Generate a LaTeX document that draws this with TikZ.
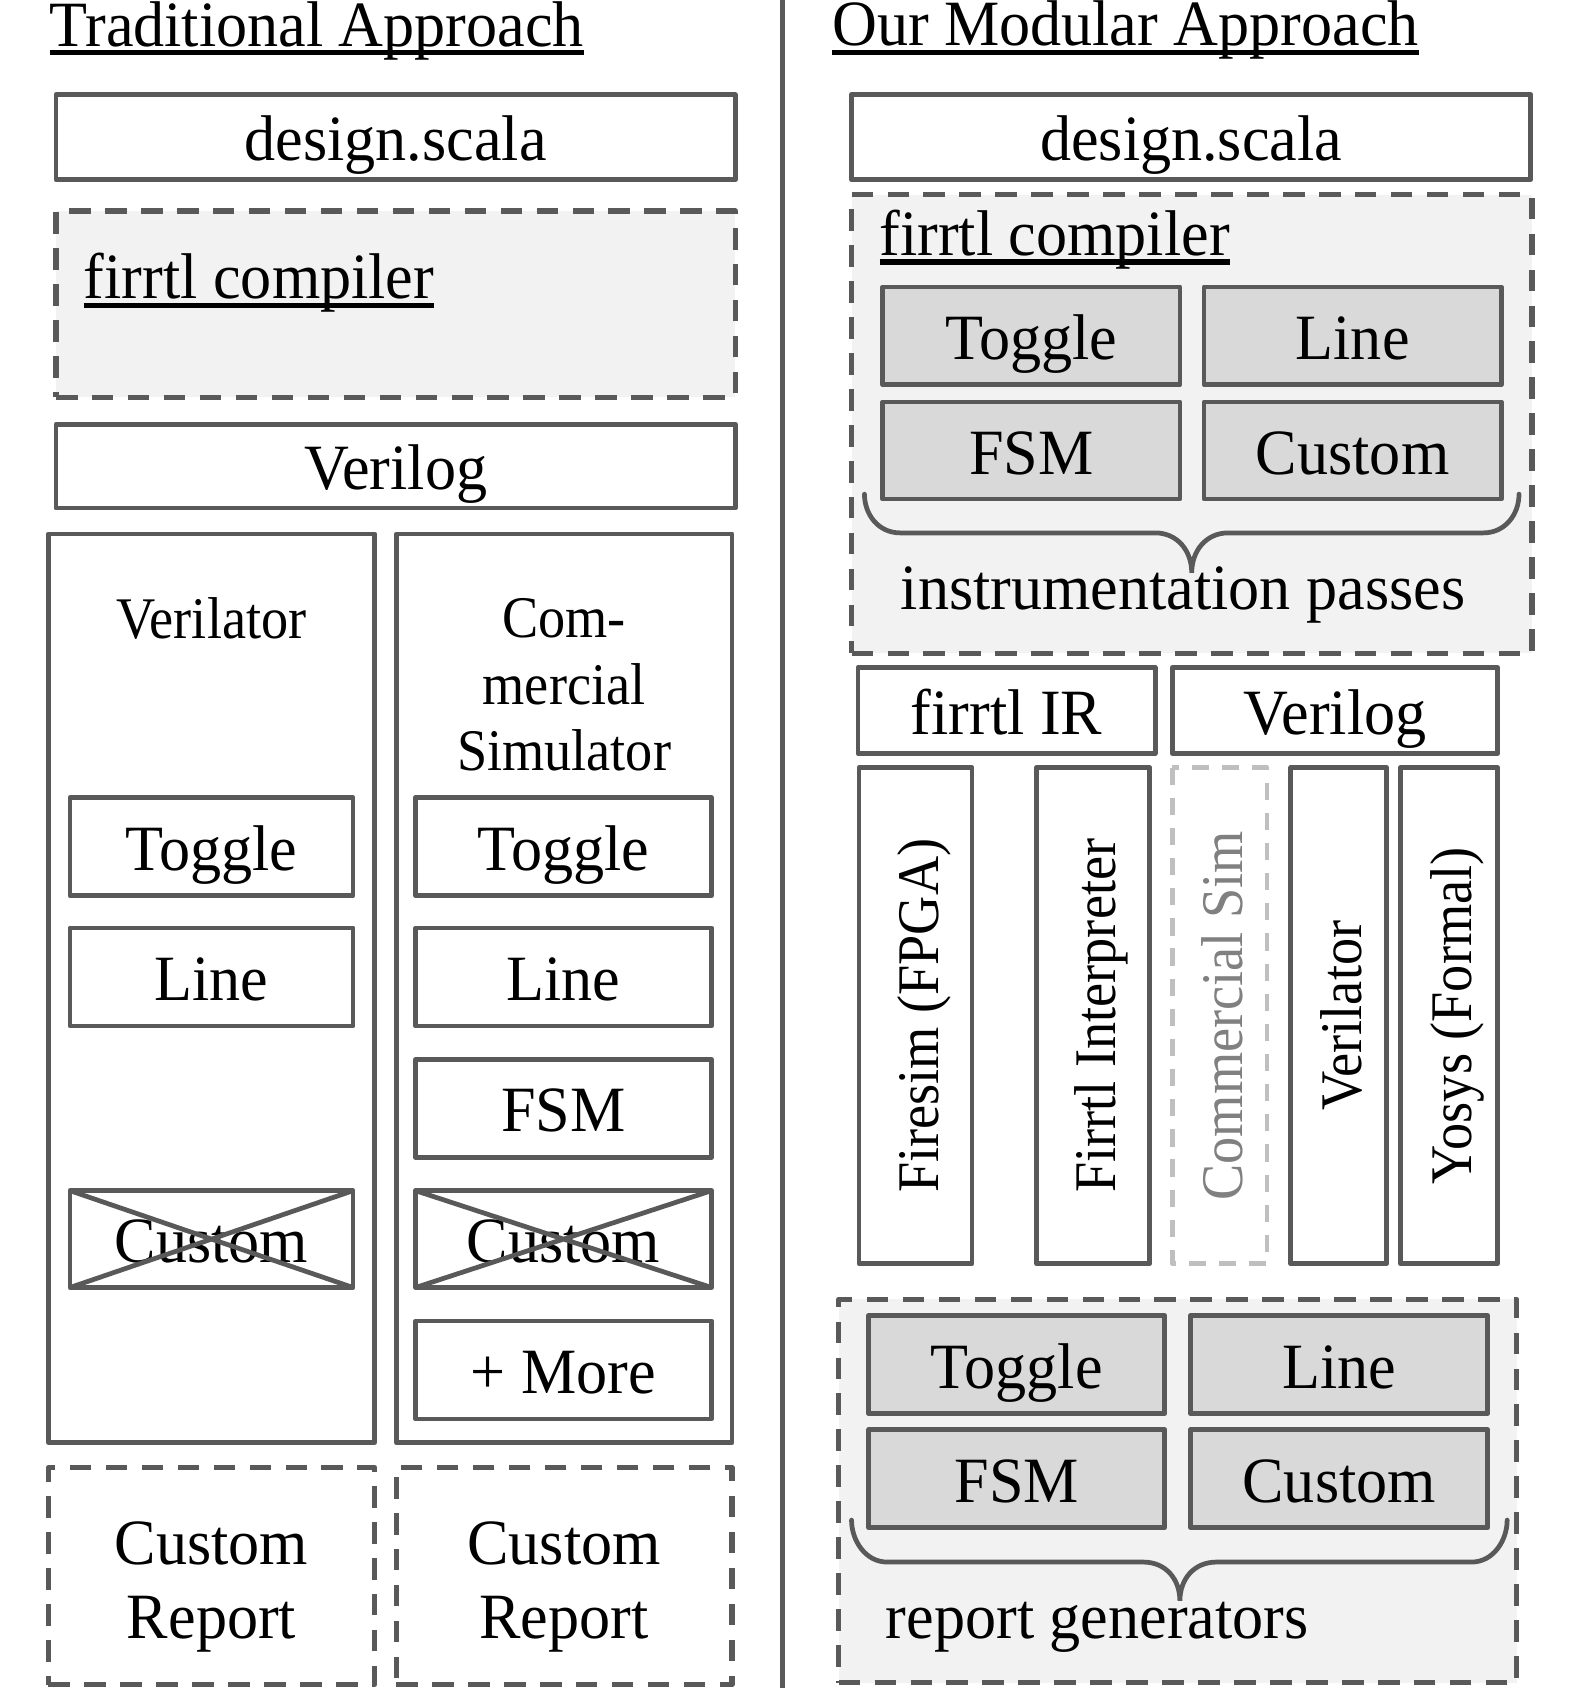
\documentclass[tikz,border=0pt]{standalone}
\usepackage{fontspec}
\setmainfont{Liberation Serif}[FakeStretch=0.962]
\newfontfamily\narrowfam{Liberation Serif}[FakeStretch=0.92]
\usetikzlibrary{calc}
\definecolor{lc}{RGB}{89,89,89}
\definecolor{fillA}{RGB}{242,242,242}
\definecolor{fillB}{RGB}{217,217,217}
\definecolor{ghost}{RGB}{191,191,191}
\definecolor{ghosttext}{RGB}{128,128,128}
\newcommand\fnorm{\fontsize{30}{36}\selectfont}
\newcommand\fsmall{\narrowfam\fontsize{27.4}{33}\selectfont}
\begin{document}
\begin{tikzpicture}[x=0.5pt,y=-0.5pt,
  every node/.style={inner sep=0pt, outer sep=0pt},
  txt/.style={font=\fnorm},
  stxt/.style={font=\fsmall},
  bx/.style={draw=lc, line width=2.2pt, line join=round, fill=white, font=\fnorm, text height=22pt, text depth=0pt},
  gbx/.style={bx, fill=fillB},
  plainbx/.style={draw=lc, line width=2.2pt, line join=round},
  dbx/.style={draw=lc, line width=2.4pt, line join=round, dash pattern=on 10pt off 6.7pt, fill=fillA},
  rbx/.style={draw=lc, line width=2.4pt, line join=round, dash pattern=on 10pt off 6.7pt},
  vbx/.style={bx, rotate=90, font=\fsmall, text height=21pt, text depth=0pt},
  ghostbx/.style={vbx, draw=ghost, dash pattern=on 8pt off 6pt, text=ghosttext},
  uline/.style={line width=2.5pt, black},
  xline/.style={draw=lc, line width=2.2pt},
  brace/.style={draw=lc, line width=2.2pt, line cap=round}
]
\useasboundingbox (0,0) rectangle (1457,1568);

% ---------------- divider
\coordinate (divT) at (727,0);
\coordinate (divB) at (727,1568);
\draw[draw=lc, line width=2.2pt] (divT) -- (divB);

% ---------------- left column
\node[txt, anchor=base west] (Ltitle) at (46,43) {Traditional Approach};
\draw[uline] ([yshift=-3pt]Ltitle.base west) -- ([yshift=-3pt]Ltitle.base east);

\node[bx, minimum width=315.5pt, minimum height=39.5pt] (Lds) at (367.5,127.5) {design.scala};
\node[dbx, minimum width=315.5pt, minimum height=86.5pt] (Lfc) at (367.5,282.5) {};
\node[txt, anchor=base west] (Lfct) at (78,277.5) {firrtl compiler};
\draw[uline] ([yshift=-3pt]Lfct.base west) -- ([yshift=-3pt]Lfct.base east);
\node[bx, minimum width=315.5pt, minimum height=39pt] (Lvg) at (367.5,433) {Verilog};

\node[plainbx, minimum width=151.5pt, minimum height=422pt] (Lvl) at (196.5,918) {};
\node[plainbx, minimum width=156pt, minimum height=422pt] (Lcm) at (524,918) {};
\node[stxt, anchor=base] (Lvlt) at (196.5,593) {Verilator};
\node[stxt, anchor=base] (Lcmt1) at (524,592) {Com-};
\node[stxt, anchor=base] (Lcmt2) at (524,654) {mercial};
\node[stxt, anchor=base] (Lcmt3) at (524,716) {Simulator};

\node[bx, minimum width=131.5pt, minimum height=45.5pt] (LvTog) at (196.5,786.5) {Toggle};
\node[bx, minimum width=131.5pt, minimum height=45.5pt] (LvLin) at (196.5,907.5) {Line};
\node[bx, minimum width=131.5pt, minimum height=45pt] (LvCus) at (196.5,1151) {Custom};
\draw[xline] (LvCus.north west) -- (LvCus.south east) (LvCus.south west) -- (LvCus.north east);

\node[bx, minimum width=137.5pt, minimum height=45.5pt] (LcTog) at (523.5,786.5) {Toggle};
\node[bx, minimum width=137.5pt, minimum height=45.5pt] (LcLin) at (523.5,907.5) {Line};
\node[bx, minimum width=137.5pt, minimum height=45.5pt] (LcFsm) at (523.5,1029.5) {FSM};
\node[bx, minimum width=137.5pt, minimum height=45pt] (LcCus) at (523.5,1151) {Custom};
\draw[xline] (LcCus.north west) -- (LcCus.south east) (LcCus.south west) -- (LcCus.north east);
\node[bx, minimum width=137.5pt, minimum height=45.5pt] (LcMore) at (523.5,1272.5) {+ More};

\node[rbx, minimum width=151.5pt, minimum height=101pt] (LrA) at (196.5,1464) {};
\node[txt, anchor=base] (LrA1) at (196.5,1453) {Custom};
\node[txt, anchor=base] (LrA2) at (196.5,1522) {Report};
\node[rbx, minimum width=156pt, minimum height=101pt] (LrB) at (524,1464) {};
\node[txt, anchor=base] (LrB1) at (524,1453) {Custom};
\node[txt, anchor=base] (LrB2) at (524,1522) {Report};

% ---------------- right column
\node[txt, anchor=base west] (Rtitle) at (773,42.5) {Our Modular Approach};
\draw[uline] ([yshift=-3pt]Rtitle.base west) -- ([yshift=-3pt]Rtitle.base east);

\node[bx, minimum width=315.5pt, minimum height=39.5pt] (Rds) at (1106.5,127.5) {design.scala};
\node[dbx, minimum width=316pt, minimum height=213pt] (Rfc) at (1107,394) {};
\node[txt, anchor=base west] (Rfct) at (817,237.5) {firrtl compiler};
\draw[uline] ([yshift=-3pt]Rfct.base west) -- ([yshift=-3pt]Rfct.base east);

\node[gbx, minimum width=138pt, minimum height=45.5pt] (RiTog) at (958,312) {Toggle};
\node[gbx, minimum width=138pt, minimum height=45.5pt] (RiLin) at (1256.5,312) {Line};
\node[gbx, minimum width=138pt, minimum height=45pt] (RiFsm) at (958,418.5) {FSM};
\node[gbx, minimum width=138pt, minimum height=45pt] (RiCus) at (1256.5,418.5) {Custom};

\coordinate (b1L) at (803,459);
\coordinate (b1R) at (1411,459);
\coordinate (b1T) at (1107,532);
\draw[brace] (b1L) .. controls (803,478) and (816,495) .. (836,495) -- (1073,495)
  .. controls (1094,495) and (1107,512) .. (b1T)
  .. controls (1107,512) and (1120,495) .. (1141,495) -- (1378,495)
  .. controls (1398,495) and (1411,478) .. (b1R);
\node[txt, anchor=base] (Ripass) at (1099,566) {instrumentation passes};

\node[bx, minimum width=138pt, minimum height=40pt] (Rir) at (935,660) {firrtl IR};
\node[bx, minimum width=151pt, minimum height=40pt] (Rvg) at (1240,660) {Verilog};

\node[vbx, minimum width=230.5pt, minimum height=52.5pt] (Rfs) at (850.5,943.5) {Firesim (FPGA)};
\node[vbx, minimum width=230.5pt, minimum height=52.5pt] (Rfi) at (1015.5,943.5) {Firrtl Interpreter};
\node[ghostbx, minimum width=230.5pt, minimum height=44pt] (Rcs) at (1133,943.5) {Commercial Sim};
\node[vbx, minimum width=230.5pt, minimum height=44.5pt] (Rvl) at (1243.5,943.5) {Verilator};
\node[vbx, minimum width=230.5pt, minimum height=45pt] (Rys) at (1346,943.5) {Yosys (Formal)};

\node[dbx, minimum width=315pt, minimum height=178pt] (Rrg) at (1094,1385) {};
\node[gbx, minimum width=137.5pt, minimum height=45.5pt] (RrTog) at (944.5,1267.5) {Toggle};
\node[gbx, minimum width=138pt, minimum height=45.5pt] (RrLin) at (1244,1267.5) {Line};
\node[gbx, minimum width=137.5pt, minimum height=45.5pt] (RrFsm) at (944.5,1373.5) {FSM};
\node[gbx, minimum width=138pt, minimum height=45.5pt] (RrCus) at (1244,1373.5) {Custom};

\coordinate (b2L) at (791,1412);
\coordinate (b2R) at (1400,1412);
\coordinate (b2T) at (1096,1487);
\draw[brace] (b2L) .. controls (791,1431) and (804,1451) .. (824,1451) -- (1062,1451)
  .. controls (1083,1451) and (1096,1467) .. (b2T)
  .. controls (1096,1467) and (1109,1451) .. (1130,1451) -- (1367,1451)
  .. controls (1387,1451) and (1400,1431) .. (b2R);
\node[txt, anchor=base west] (Rrgen) at (823,1522) {report generators};
\end{tikzpicture}
\end{document}
